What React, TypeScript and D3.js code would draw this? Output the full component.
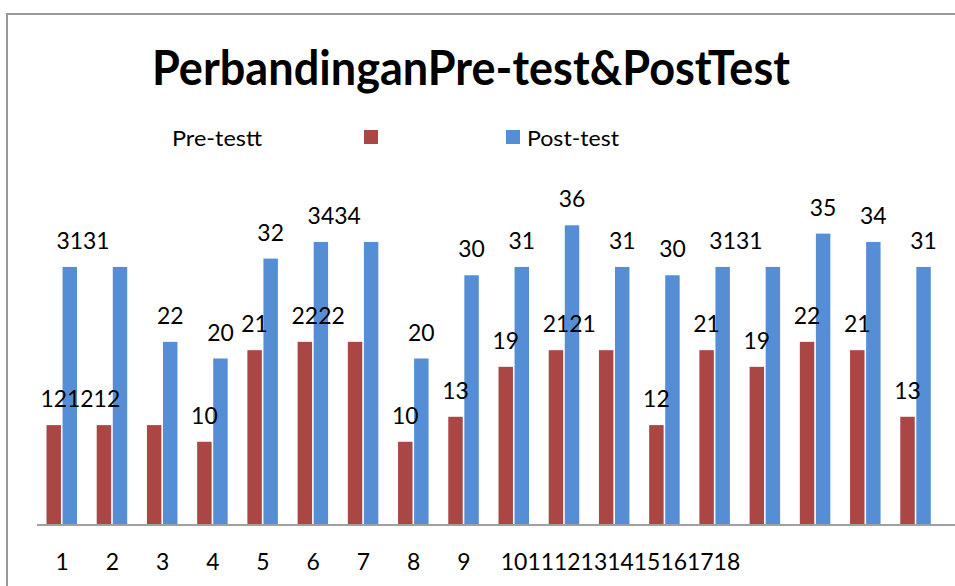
import React from 'react';
import * as d3 from 'd3';

// data
const categories = ['1', '2', '3', '4', '5', '6', '7', '8', '9', '10', '11', '12', '13', '14', '15', '16', '17', '18'];
const preTest = [12, 12, 12, 10, 21, 22, 22, 10, 13, 19, 21, 21, 12, 21, 19, 22, 21, 13];
const postTest = [31, 31, 22, 20, 32, 34, 34, 20, 30, 31, 36, 31, 30, 31, 31, 35, 34, 31];
const seriesNames = ['Pre-testt', 'Post-test'];
const title = 'PerbandinganPre-test&PostTest';

const W = 955;
const H = 586;
const RED = '#AA4643';
const BLUE = '#558ED5';
const FONT = 'Lato, "Open Sans", sans-serif';
const DIGIT = 13.3; // width of one digit in the labels

// labels that sit on the same line next to each other got glued together
// in the source, so a run of equal values is drawn packed from the first one
function packRuns(values: number[], xs: number[]) {
    const out: { text: string; x: number; v: number }[] = [];
    let i = 0;
    while (i < values.length) {
        let j = i;
        while (j + 1 < values.length && values[j + 1] === values[i]) j++;
        const w = String(values[i]).length * DIGIT;
        for (let k = i; k <= j; k++) {
            out.push({ text: String(values[k]), x: xs[i] + (k - i) * w, v: values[k] });
        }
        i = j + 1;
    }
    return out;
}

export default function App() {
    const x = d3.scaleBand().domain(categories).range([37, 941]);
    const inner = d3.scaleBand().domain(['pre', 'post']).range([9.5, 40]).paddingInner(0.1);
    const y = d3.scaleLinear().domain([0, 40]).range([525, 192]);

    const preX = categories.map(c => (x(c) as number) + (inner('pre') as number));
    const postX = categories.map(c => (x(c) as number) + (inner('post') as number));
    const bw = inner.bandwidth();

    const preLabels = packRuns(preTest, preX.map(v => v + bw / 2));
    const postLabels = packRuns(postTest, postX.map(v => v + bw / 2));

    // axis labels: 1-9 alone, 10-18 run together from the 10
    const twoDigitStart = categories.findIndex(c => c.length > 1);
    const axisLabels = categories.map((c, i) => {
        const cx = (x(c) as number) + x.bandwidth() / 2;
        if (i < twoDigitStart) return { text: c, x: cx };
        const first = (x(categories[twoDigitStart]) as number) + x.bandwidth() / 2 - DIGIT;
        return { text: c, x: first + (i - twoDigitStart) * 2 * DIGIT + DIGIT };
    });

    return (
        <svg width={W} height={H} style={{ position: 'absolute', left: 0, top: 0, background: '#fff' }}>
            {/* chart frame */}
            <line x1={6} x2={W} y1={14} y2={14} stroke="#999" strokeWidth={2} />
            <line x1={7} x2={7} y1={13} y2={H} stroke="#999" strokeWidth={2} />

            <text x={471} y={85} textAnchor="middle" fontFamily={FONT} fontWeight={700} fontSize={47}
                textLength={638} lengthAdjust="spacingAndGlyphs" fill="#000">{title}</text>

            {/* legend */}
            <text x={172} y={146} fontFamily={FONT} fontSize={22} textLength={90}
                lengthAdjust="spacingAndGlyphs" fill="#000">{seriesNames[0]}</text>
            <rect x={364} y={130} width={14} height={14} fill={RED} />
            <rect x={506} y={130} width={14} height={14} fill={BLUE} />
            <text x={527} y={146} fontFamily={FONT} fontSize={22} textLength={92}
                lengthAdjust="spacingAndGlyphs" fill="#000">{seriesNames[1]}</text>

            {/* bars */}
            {preTest.map((v, i) => (
                <rect key={'pre' + i} x={preX[i]} y={y(v)} width={bw} height={y(0) - y(v)} fill={RED} />
            ))}
            {postTest.map((v, i) => (
                <rect key={'post' + i} x={postX[i]} y={y(v)} width={bw} height={y(0) - y(v)} fill={BLUE} />
            ))}

            {/* axis line */}
            <line x1={37} x2={W} y1={525} y2={525} stroke="#A0A0A0" strokeWidth={2} />

            {/* value labels */}
            {[...preLabels, ...postLabels].map((l, i) => (
                <text key={'lab' + i} x={l.x} y={y(l.v) - 18} textAnchor="middle" fontFamily={FONT}
                    fontSize={24} textLength={l.text.length * DIGIT} lengthAdjust="spacingAndGlyphs" fill="#000">{l.text}</text>
            ))}

            {axisLabels.map((l, i) => (
                <text key={'ax' + i} x={l.x} y={570} textAnchor="middle" fontFamily={FONT} fontSize={24}
                    textLength={l.text.length * DIGIT} lengthAdjust="spacingAndGlyphs" fill="#000">{l.text}</text>
            ))}
        </svg>
    );
}
